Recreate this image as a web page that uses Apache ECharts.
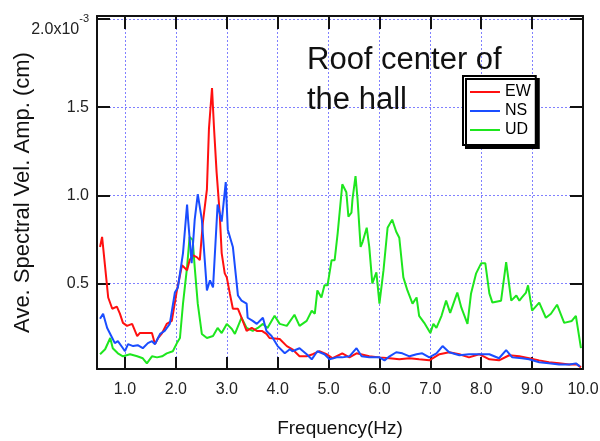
<!DOCTYPE html>
<html>
<head>
<meta charset="utf-8">
<script src="https://cdn.jsdelivr.net/npm/echarts@6/dist/echarts.min.js"></script>
<style>
  html, body { margin: 0; padding: 0; background: #fff; }
  #main { width: 600px; height: 441px; }
</style>
</head>
<body>
<div id="main"></div>
<script>
// amplitudes are in units of 1e-3 cm
const xTicks = [1, 2, 3, 4, 5, 6, 7, 8, 9, 10];
const yTicks = [0.5, 1.0, 1.5, 2.0];

const ewFreq = [0.51,0.55,0.61,0.67,0.75,0.84,0.90,0.96,1.04,1.14,1.24,1.29,1.43,1.53,1.59,1.65,1.73,1.82,1.92,2.02,2.12,2.22,2.27,2.33,2.41,2.47,2.53,2.61,2.65,2.71,2.75,2.80,2.86,2.90,2.96,3.00,3.06,3.12,3.22,3.29,3.39,3.49,3.59,3.69,3.78,3.84,4.04,4.18,4.29,4.43,4.57,4.69,4.82,4.96,5.08,5.27,5.41,5.55,5.80,6.00,6.20,6.39,6.59,6.78,6.98,7.18,7.37,7.57,7.76,7.96,8.16,8.35,8.55,8.75,8.94,9.14,9.33,9.53,9.73,9.88,9.96];
const ewAmp = [0.707,0.764,0.592,0.420,0.356,0.368,0.328,0.276,0.259,0.270,0.201,0.218,0.218,0.218,0.155,0.190,0.218,0.270,0.287,0.460,0.603,0.575,0.632,0.661,0.649,0.632,0.845,1.034,1.379,1.609,1.379,1.132,0.902,0.672,0.557,0.534,0.443,0.356,0.356,0.305,0.230,0.247,0.230,0.230,0.213,0.190,0.184,0.144,0.126,0.086,0.086,0.098,0.115,0.098,0.075,0.103,0.080,0.103,0.086,0.080,0.075,0.069,0.075,0.069,0.063,0.098,0.109,0.098,0.080,0.098,0.069,0.063,0.092,0.086,0.075,0.063,0.052,0.046,0.040,0.040,0.023];

const nsFreq = [0.51,0.57,0.65,0.75,0.80,0.86,0.96,1.00,1.06,1.16,1.25,1.35,1.45,1.53,1.59,1.69,1.78,1.88,1.98,2.04,2.14,2.22,2.24,2.31,2.37,2.43,2.51,2.61,2.67,2.73,2.82,2.90,2.98,3.02,3.12,3.22,3.29,3.39,3.41,3.51,3.59,3.71,3.78,3.88,4.00,4.14,4.24,4.29,4.43,4.57,4.67,4.78,4.92,5.02,5.16,5.27,5.41,5.55,5.65,5.80,6.00,6.10,6.20,6.33,6.45,6.59,6.73,6.84,6.98,7.12,7.24,7.37,7.57,7.76,7.96,8.16,8.35,8.49,8.61,8.80,8.94,9.14,9.33,9.53,9.73,9.86,9.94];
const nsAmp = [0.299,0.328,0.247,0.190,0.161,0.172,0.132,0.115,0.155,0.144,0.149,0.132,0.161,0.172,0.155,0.213,0.230,0.270,0.448,0.477,0.672,0.948,0.862,0.615,0.862,1.006,0.862,0.460,0.517,0.477,0.948,0.851,1.075,0.805,0.707,0.431,0.402,0.385,0.305,0.287,0.270,0.305,0.230,0.201,0.144,0.103,0.126,0.115,0.132,0.098,0.069,0.115,0.098,0.069,0.080,0.080,0.086,0.132,0.086,0.080,0.080,0.063,0.086,0.109,0.103,0.086,0.098,0.103,0.080,0.103,0.144,0.109,0.092,0.098,0.098,0.098,0.075,0.121,0.080,0.075,0.069,0.052,0.046,0.040,0.040,0.046,0.029];

const udFreq = [0.51,0.61,0.71,0.76,0.86,0.96,1.10,1.24,1.35,1.43,1.53,1.63,1.73,1.82,1.94,2.02,2.08,2.14,2.22,2.27,2.33,2.37,2.43,2.51,2.61,2.73,2.82,2.90,3.00,3.10,3.16,3.29,3.39,3.51,3.61,3.71,3.80,3.88,3.94,4.04,4.18,4.33,4.43,4.57,4.67,4.73,4.78,4.86,4.92,4.98,5.06,5.12,5.18,5.27,5.35,5.39,5.45,5.47,5.53,5.57,5.63,5.67,5.75,5.80,5.86,5.94,6.00,6.08,6.16,6.25,6.33,6.39,6.47,6.55,6.65,6.73,6.78,6.88,7.00,7.06,7.12,7.22,7.31,7.39,7.53,7.61,7.73,7.80,7.90,8.00,8.08,8.16,8.22,8.39,8.49,8.59,8.69,8.75,8.80,8.88,8.92,9.00,9.14,9.27,9.37,9.49,9.63,9.78,9.86,9.96];
const udAmp = [0.098,0.126,0.190,0.132,0.103,0.086,0.098,0.086,0.075,0.046,0.086,0.080,0.086,0.103,0.115,0.161,0.190,0.385,0.592,0.764,0.747,0.592,0.385,0.213,0.190,0.201,0.247,0.218,0.270,0.241,0.213,0.305,0.247,0.230,0.247,0.270,0.247,0.287,0.316,0.270,0.259,0.322,0.259,0.287,0.345,0.328,0.460,0.420,0.489,0.489,0.632,0.632,0.787,1.063,1.017,0.879,0.902,0.977,1.109,0.977,0.707,0.736,0.816,0.707,0.500,0.563,0.385,0.575,0.816,0.862,0.793,0.759,0.534,0.460,0.385,0.420,0.316,0.276,0.218,0.270,0.247,0.316,0.402,0.333,0.448,0.362,0.270,0.443,0.557,0.615,0.615,0.443,0.391,0.402,0.621,0.402,0.431,0.402,0.420,0.448,0.489,0.345,0.391,0.305,0.328,0.379,0.276,0.287,0.316,0.132];

function zip(a, b) { return a.map((v, i) => [v, b[i]]); }

const FONT = 'Liberation Sans';
const gridLine = { show: true, lineStyle: { color: '#8080ff', width: 1, type: [2, 2] } };
const blackLine = { show: true, onZero: false, lineStyle: { color: '#111', width: 2 } };
// plain line legend icon (outer slivers only fix the box to 30x16)
const lineIcon = 'path://M0,0L30,0L30,0.01L0,0.01Z M0,7L30,7L30,9L0,9Z M0,16L30,16L30,16.01L0,16.01Z';

var myChart = echarts.init(document.getElementById('main'), null, { renderer: 'canvas' });
myChart.setOption({
  animation: false,
  backgroundColor: '#fff',
  grid: { left: 97, right: 17, top: 16, bottom: 72, containLabel: false, outerBoundsMode: 'none' },
  legend: {
    orient: 'vertical',
    left: 463, top: 76,
    backgroundColor: '#fff',
    borderColor: '#000', borderWidth: 2,
    shadowColor: '#000', shadowBlur: 0, shadowOffsetX: 3, shadowOffsetY: 3,
    padding: [8, 5, 7, 7],
    itemWidth: 30, itemHeight: 16, itemGap: 3, itemTextGap: 9,
    textStyle: { fontFamily: FONT, fontSize: 16, color: '#000' },
    data: [{ name: 'EW', icon: lineIcon }, { name: 'NS', icon: lineIcon }, { name: 'UD', icon: lineIcon }]
  },
  xAxis: [{
    type: 'value', min: 0.45, max: 10.0,
    name: 'Frequency(Hz)', nameLocation: 'middle', nameGap: 50, nameMoveOverlap: false,
    nameTextStyle: { fontFamily: FONT, fontSize: 19, color: '#111' },
    axisLine: blackLine,
    axisTick: { inside: true, length: 12, customValues: xTicks, lineStyle: { color: '#111', width: 2 } },
    axisLabel: { customValues: xTicks, margin: 13, fontFamily: FONT, fontSize: 16, color: '#222',
      formatter: v => v.toFixed(1) },
    splitLine: gridLine
  }, {
    type: 'value', min: 0.45, max: 10.0, position: 'top',
    axisLine: blackLine,
    axisTick: { inside: true, length: 13, customValues: xTicks, lineStyle: { color: '#111', width: 2 } },
    axisLabel: { show: false },
    splitLine: { show: false }
  }],
  yAxis: [{
    type: 'value', min: 0.014, max: 2.018,
    name: 'Ave. Spectral Vel. Amp. (cm)', nameLocation: 'middle', nameGap: 63, nameMoveOverlap: false,
    nameTextStyle: { fontFamily: FONT, fontSize: 22, color: '#111' },
    axisLine: blackLine,
    axisTick: { inside: true, length: 13, customValues: yTicks, lineStyle: { color: '#111', width: 2 } },
    axisLabel: {
      customValues: yTicks, margin: 8, fontFamily: FONT, fontSize: 16, color: '#222',
      formatter: v => v === 2 ? '{a|2.0x10}{s|-3}' : v.toFixed(1),
      rich: {
        a: { fontFamily: FONT, fontSize: 16, color: '#222', padding: [20, 0, 0, 0] },
        s: { fontFamily: FONT, fontSize: 11, color: '#222', padding: [5, 0, 6, 0] }
      }
    },
    splitLine: gridLine
  }, {
    type: 'value', min: 0.014, max: 2.018, position: 'right',
    axisLine: blackLine,
    axisTick: { inside: true, length: 13, customValues: yTicks, lineStyle: { color: '#111', width: 2 } },
    axisLabel: { show: false },
    splitLine: { show: false }
  }],
  graphic: [{
    type: 'text', left: 307, top: 40, z: 10,
    style: { text: 'Roof center of\nthe hall', fontFamily: FONT, fontSize: 31, lineHeight: 40, fill: '#111' }
  }],
  series: [
    { name: 'EW', type: 'line', symbol: 'none', data: zip(ewFreq, ewAmp), lineStyle: { color: '#ff1010', width: 2 }, itemStyle: { color: '#ff1010' }, z: 3 },
    { name: 'NS', type: 'line', symbol: 'none', data: zip(nsFreq, nsAmp), lineStyle: { color: '#1a4dff', width: 2 }, itemStyle: { color: '#1a4dff' }, z: 4 },
    { name: 'UD', type: 'line', symbol: 'none', data: zip(udFreq, udAmp), lineStyle: { color: '#1ee61e', width: 2 }, itemStyle: { color: '#1ee61e' }, z: 2 }
  ]
});
</script>
</body>
</html>
